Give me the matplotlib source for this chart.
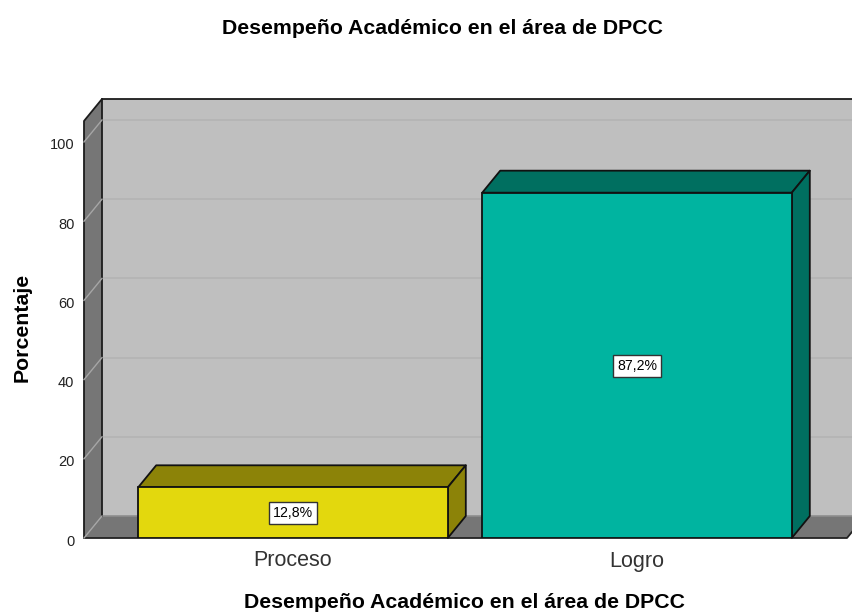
import matplotlib
matplotlib.use('Agg')
import matplotlib.pyplot as plt
from matplotlib.patches import Polygon
from matplotlib.transforms import ScaledTranslation

plt.rcParams['font.family'] = ['Liberation Sans', 'DejaVu Sans']

titulo = 'Desempeño Académico en el área de DPCC'
categorias = ['Proceso', 'Logro']
porcentajes = [12.8, 87.2]
marcas_y = [0, 20, 40, 60, 80, 100]

color_frente = ['#e3d80d', '#00b4a0']
color_tapa = ['#8c8308', '#006f60']

# tamano de la figura y zona del plano frontal, en pixeles
W, H = 852, 612
izq, der, arriba, abajo = 84, 847, 121, 538
ymax = 105.3
px_cat = 344.0   # pixeles entre categorias
cx0 = 293        # centro de la primera categoria
ancho = 0.9

fig = plt.figure(figsize=(W / 100, H / 100), dpi=100)
ax = fig.add_axes([izq / W, 1 - abajo / H, (der - izq) / W, (abajo - arriba) / H])
xmin = (izq - cx0) / px_cat
xmax = (der - cx0) / px_cat
ax.set_xlim(xmin, xmax)
ax.set_ylim(0, ymax)

# profundidad 3d en unidades de datos
dx = 18 / px_cat
dy = 22 / ((abajo - arriba) / ymax)


def cara(puntos, color, z, ec='#111111', lw=1.3):
    p = Polygon(puntos, closed=True, fc=color, ec=ec, lw=lw, zorder=z, clip_on=False, joinstyle='round')
    ax.add_patch(p)
    return p


def linea(xs, ys, color, lw, z):
    ax.plot(xs, ys, color=color, lw=lw, zorder=z, clip_on=False)


# paredes del fondo
pared = '#bfbfbf'
piso = '#767676'
cara([(xmin + dx, dy), (xmax + dx, dy), (xmax + dx, ymax + dy), (xmin + dx, ymax + dy)], pared, 1, ec='none')
cara([(xmin, 0), (xmin + dx, dy), (xmin + dx, ymax + dy), (xmin, ymax)], piso, 2, ec='none')
cara([(xmin, 0), (xmax, 0), (xmax + dx, dy), (xmin + dx, dy)], piso, 2, ec='none')
linea([xmin + dx, xmin + dx], [dy, ymax + dy], '#1c1c1c', 1.3, 3)
linea([xmin, xmin, xmin + dx, xmax + dx], [0, ymax, ymax + dy, ymax + dy], '#1c1c1c', 1.3, 3)
linea([xmin, xmax, xmax + dx], [0, 0, dy], '#222222', 1.3, 3)
linea([xmin + dx, xmax + dx], [dy, dy], '#8e8e8e', 1.2, 2)
linea([xmin, xmin + dx], [0, dy], '#a6a6a6', 1.0, 3)

# rejilla en la pared y en el lateral
for m in marcas_y[1:]:
    linea([xmin + dx, xmax + dx], [m + dy, m + dy], '#b4b4b4', 1.2, 2)
    linea([xmin, xmin + dx], [m, m + dy], '#a6a6a6', 1.0, 3)

# barras
x = list(range(len(categorias)))
ax.bar(x, porcentajes, width=ancho, color=color_frente, edgecolor='#111111', linewidth=1.3, zorder=6)
for i, v in zip(x, porcentajes):
    a = i - ancho / 2
    b = i + ancho / 2
    cara([(a, v), (b, v), (b + dx, v + dy), (a + dx, v + dy)], color_tapa[i], 5)
    cara([(b, 0), (b + dx, dy), (b + dx, v + dy), (b, v)], color_tapa[i], 5)
    ax.annotate(f'{v:.1f}%'.replace('.', ','), (i, v / 2), xytext=(0, 1), textcoords='offset pixels',
                ha='center', va='center_baseline', fontsize=10.2, color='black', zorder=8,
                bbox=dict(boxstyle='square,pad=0.3', fc='white', ec='#333333', lw=1.0))

for s in ax.spines.values():
    s.set_visible(False)
ax.patch.set_visible(False)
ax.set_xticks(x)
ax.set_xticklabels(categorias, fontsize=15.5, color='#333333')
ax.set_yticks(marcas_y)
ax.tick_params(axis='x', length=0, pad=9)
ax.tick_params(axis='y', length=0, pad=7, labelsize=10.5, labelcolor='#222222')
bajar = ScaledTranslation(0, -2 / 100, fig.dpi_scale_trans)
for t in ax.get_yticklabels():
    t.set_transform(t.get_transform() + bajar)

fig.text(443 / W, 1 - 29 / H, titulo, ha='center', va='center', fontsize=15.3, fontweight='bold')
fig.text(464.5 / W, 1 - 603 / H, titulo, ha='center', va='center', fontsize=15.3, fontweight='bold')
fig.text(22 / W, 1 - 327 / H, 'Porcentaje', ha='center', va='center', rotation=90, fontsize=15.3, fontweight='bold')

fig.savefig('out.png', dpi=100)
